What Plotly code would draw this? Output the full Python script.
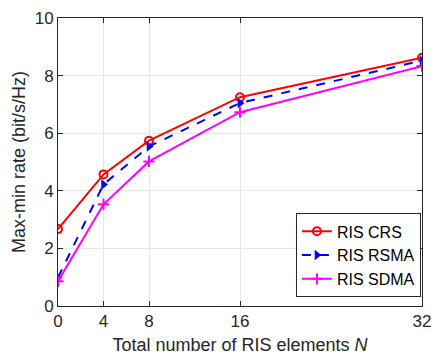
import plotly.graph_objects as go

N = [0, 4, 8, 16, 32]
crs = [2.67, 4.57, 5.74, 7.25, 8.62]
rsma = [0.99, 4.22, 5.54, 7.05, 8.52]
sdma = [0.86, 3.53, 5.02, 6.73, 8.33]
xticks = [0, 4, 8, 16, 32]
yticks = [0, 2, 4, 6, 8, 10]

FONT = "Liberation Sans, Arial"

fig = go.Figure()
fig.add_trace(go.Scatter(x=N, y=crs, name="RIS CRS", mode="lines+markers",
                         line=dict(color="#FF0000", width=2),
                         marker=dict(symbol="circle-open", size=8, color="#FF0000", line=dict(width=2))))
fig.add_trace(go.Scatter(x=N, y=rsma, name="RIS RSMA", mode="lines+markers",
                         line=dict(color="#0000FF", width=2, dash="dash"),
                         marker=dict(symbol="triangle-right", size=9, color="#0000FF")))
fig.add_trace(go.Scatter(x=N, y=sdma, name="RIS SDMA", mode="lines+markers",
                         line=dict(color="#FF00FF", width=2),
                         marker=dict(symbol="cross-thin-open", size=8, color="#FF00FF", line=dict(width=2, color="#FF00FF"))))

axis_common = dict(showline=True, linecolor="#262626", linewidth=1, mirror="ticks",
                   ticks="inside", ticklen=5, tickcolor="#262626",
                   showgrid=True, gridcolor="#E6E6E6", gridwidth=1, zeroline=False,
                   ticklabeloverflow="allow",
                   tickfont=dict(family=FONT, size=17, color="#262626"),
                   title_font=dict(family=FONT, size=18, color="#262626"))

fig.update_xaxes(range=[0, 32], tickvals=xticks, ticktext=[str(v) for v in xticks],
                 title_text="Total number of RIS elements <i>N</i>", title_standoff=7, **axis_common)
fig.update_yaxes(range=[0, 10], tickvals=yticks, ticktext=[str(v) for v in yticks],
                 title_text="Max-min rate (bit/s/Hz)", title_standoff=4, **axis_common)

fig.update_layout(width=440, height=362, margin=dict(l=58, r=9, t=11, b=56),
                  plot_bgcolor="white", paper_bgcolor="white",
                  font=dict(family=FONT, size=17, color="#262626"),
                  legend=dict(x=0.997, y=0.03, xanchor="right", yanchor="bottom",
                              bordercolor="#262626", borderwidth=1, bgcolor="white",
                              font=dict(family=FONT, size=16, color="#000000"), tracegroupgap=0,
                              itemwidth=30))
fig.write_html("out.html", config={"displayModeBar": False},
               post_script="document.body.style.margin='0';")
